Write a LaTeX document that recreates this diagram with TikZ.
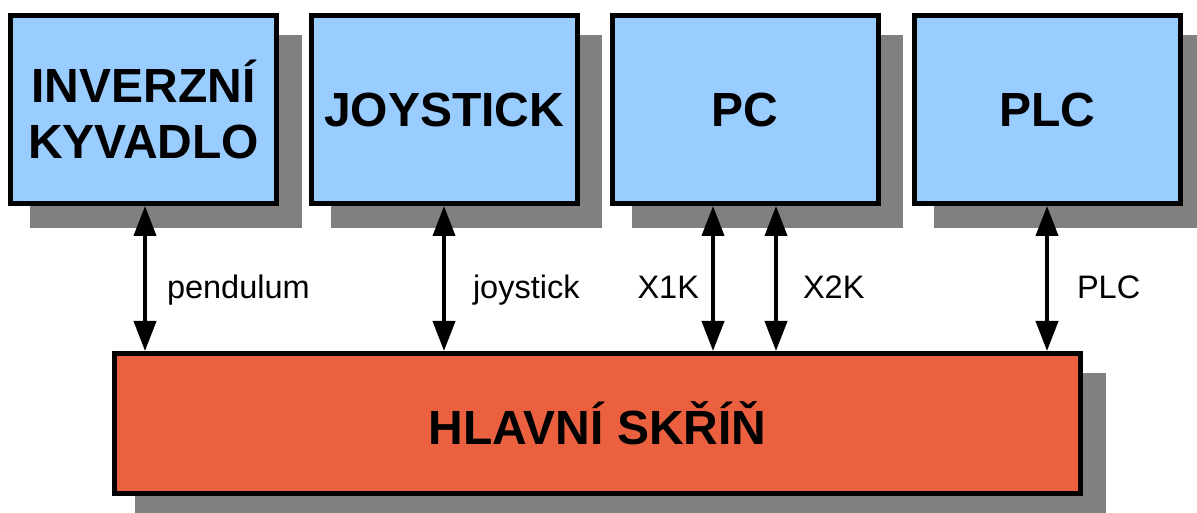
\documentclass[tikz,border=0pt]{standalone}
\usepackage{fontspec}
\setmainfont{Liberation Sans}
\usepackage{tikz}
\usetikzlibrary{positioning}
\usetikzlibrary{arrows.meta}
\usetikzlibrary{shadows}
\definecolor{boxblue}{HTML}{99CCFF}
\definecolor{boxred}{HTML}{EB613F}
\definecolor{shadowgray}{HTML}{808080}
\tikzset{
  block/.style={shape=rectangle,draw=black,line width=0.1cm,inner sep=0,align=center,
    font=\fontsize{27.3}{32}\selectfont\bfseries,
    general shadow={fill=shadowgray,draw=shadowgray,line width=0.1cm,rounded corners=2pt,
      shadow xshift=0.45cm,shadow yshift=-0.45cm}},
  unit/.style={block,fill=boxblue,minimum width=5.32cm,minimum height=3.76cm},
  link/.style={line width=0.08cm,{Triangle[length=0.6cm,width=0.44cm]}-{Triangle[length=0.6cm,width=0.44cm]}},
  tag/.style={inner sep=0,font=\fontsize{18.5}{22}\selectfont}
}
\begin{document}
\begin{tikzpicture}
      \useasboundingbox (0,0) rectangle (23.94,-10.26);
      \node[unit] (kyvadlo) at (2.87,-2.19) {INVERZNÍ\\KYVADLO};
      \node[unit] (joystick) at (8.88,-2.19) {JOYSTICK};
      \node[unit] (pc) at (14.9,-2.19) {PC};
      \node[unit] (plc) at (20.94,-2.19) {PLC};
      \node[block,fill=boxred,minimum width=19.32cm,minimum height=2.8cm] (skrin) at (11.95,-8.47) {HLAVNÍ SKŘÍŇ};
      \coordinate (x1k) at ([xshift=-0.64cm]pc.south);
      \coordinate (x2k) at ([xshift=0.62cm]pc.south);
      \begin{scope}
        \draw[link] ([xshift=0.03cm]kyvadlo.south) -- node[tag,pos=0.64,anchor=base west,xshift=0.4cm]{pendulum} ([xshift=0.03cm]kyvadlo.south |- skrin.north);
        \draw[link] (joystick.south) -- node[tag,pos=0.64,anchor=base west,xshift=0.54cm]{joystick} (joystick.south |- skrin.north);
        \draw[link] (x1k) -- node[tag,pos=0.64,anchor=base east,xshift=-0.24cm]{X1K} (x1k |- skrin.north);
        \draw[link] (x2k) -- node[tag,pos=0.64,anchor=base west,xshift=0.5cm]{X2K} (x2k |- skrin.north);
        \draw[link] (plc.south) -- node[tag,pos=0.64,anchor=base west,xshift=0.56cm]{PLC} (plc.south |- skrin.north);
      \end{scope}
    \end{tikzpicture}
\end{document}
